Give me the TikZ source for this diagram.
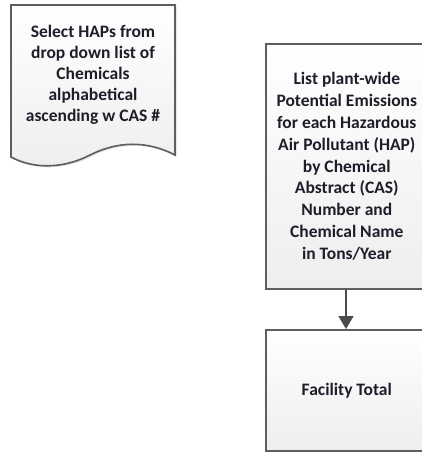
\documentclass[tikz,border=0pt]{standalone}
\usepackage{fontspec}
\setmainfont{Carlito}
\usetikzlibrary{arrows.meta,shadows}
\definecolor{edgegray}{HTML}{5E5E5E}
\definecolor{fillbot}{HTML}{EEEEEE}
\definecolor{inktext}{HTML}{1E1E2A}
\tikzset{
  x=1pt, y=1pt,
  boxlabel/.style={font=\bfseries\fontsize{17.5}{21.9}\selectfont, text=inktext, align=center},
  doclabel/.style={boxlabel, font=\bfseries\fontsize{17.5}{21}\selectfont},
  procbox/.style={draw=edgegray, line width=1.6pt, top color=white, bottom color=fillbot,
    drop shadow={shadow xshift=1.5pt, shadow yshift=-1.5pt, opacity=0.25, fill=gray},
    boxlabel, inner sep=0pt},
  flowarrow/.style={draw=edgegray!80!black, line width=1.6pt, -{Triangle[length=13pt,width=15pt]}}
}
\begin{document}
\begin{tikzpicture}
\useasboundingbox (0,0) rectangle (422,-452);
\clip (0,0) rectangle (422,-452);
% document shape with wavy bottom
\fill[gray, opacity=0.25, xshift=1.5pt, yshift=-1.5pt]
  (11,-5) -- (175,-5) -- (175,-155)
  .. controls (140,-137) and (110,-145) .. (90,-155)
  .. controls (65,-168) and (35,-170) .. (11,-157) -- cycle;
\draw[draw=edgegray, line width=1.6pt, top color=white, bottom color=fillbot]
  (11,-5) -- (175,-5) -- (175,-155)
  .. controls (140,-137) and (110,-145) .. (90,-155)
  .. controls (65,-168) and (35,-170) .. (11,-157) -- cycle;
\node[doclabel] (sel) at (93,-75)
  {Select HAPs from\\drop down list of\\Chemicals\\alphabetical\\ascending w CAS \#};
% process boxes
\node[procbox, minimum width=162pt, minimum height=245pt, anchor=north west] (emis) at (265,-43)
  {List plant-wide\\Potential Emissions\\for each Hazardous\\Air Pollutant (HAP)\\by Chemical\\Abstract (CAS)\\Number and\\Chemical Name\\in Tons/Year};
\node[procbox, minimum width=162pt, minimum height=121pt, anchor=north west] (total) at (265,-329)
  {Facility Total};
\draw[flowarrow] (emis.south -| 346,0) -- (total.north -| 346,0);
\end{tikzpicture}
\end{document}
